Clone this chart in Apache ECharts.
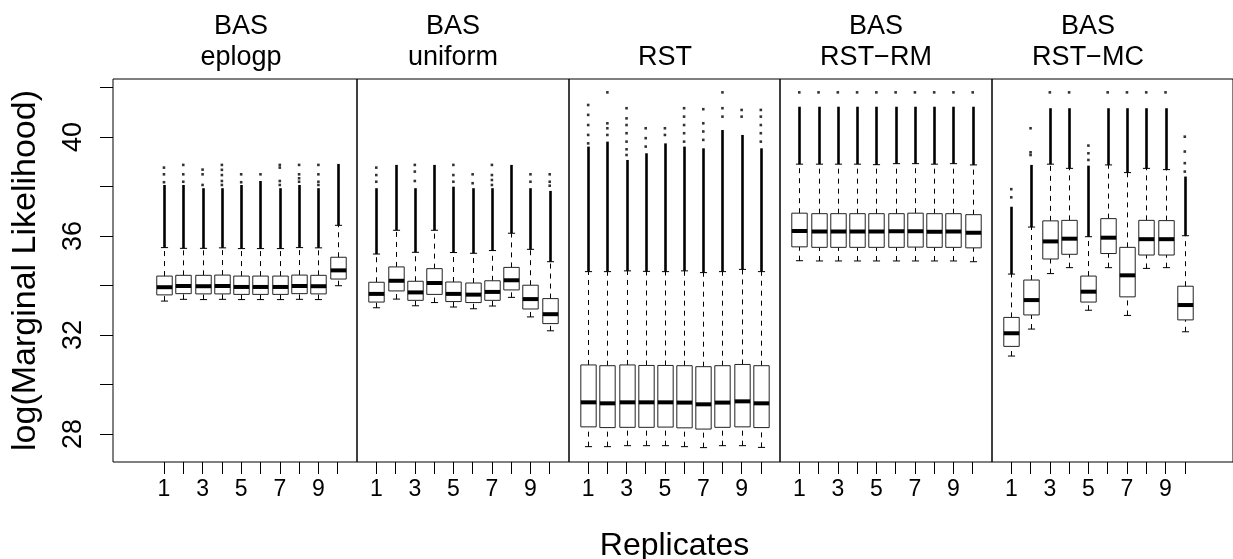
<!DOCTYPE html>
<html>
<head>
<meta charset="utf-8">
<script src="https://cdn.jsdelivr.net/npm/echarts@6/dist/echarts.min.js"></script>
<style>
  html, body { margin: 0; padding: 0; background: #fff; }
  #chart { width: 1233px; height: 559px; }
</style>
</head>
<body>
<div id="chart"></div>
<script>
// strip labels, one per panel
const panelNames = ['BAS\neplogp', 'BAS\nuniform', 'RST', 'BAS\nRST\u2212RM', 'BAS\nRST\u2212MC'];
const replicates = [1, 2, 3, 4, 5, 6, 7, 8, 9, 10];
const xTickLabels = [1, 3, 5, 7, 9];
const yTicks = [28, 30, 32, 34, 36, 38, 40, 42];
const yTickLabels = [28, 32, 36, 40];

// each box: [lower whisker, Q1, median, Q3, upper whisker, top of dense outliers]
const eplogpBoxes = [
    [33.37, 33.62, 33.93, 34.38, 35.53, 38.06],
    [33.44, 33.67, 33.98, 34.41, 35.50, 38.06],
    [33.43, 33.66, 33.97, 34.41, 35.50, 37.93],
    [33.44, 33.66, 33.98, 34.42, 35.52, 37.93],
    [33.43, 33.64, 33.94, 34.38, 35.49, 38.06],
    [33.43, 33.64, 33.94, 34.38, 35.49, 38.22],
    [33.43, 33.64, 33.94, 34.38, 35.49, 37.93],
    [33.44, 33.67, 33.98, 34.42, 35.53, 38.06],
    [33.43, 33.66, 33.97, 34.41, 35.52, 37.93],
    [33.99, 34.26, 34.61, 35.14, 36.43, 38.91]
];
const eplogpDots = [
    [38.17, 38.49, 38.76], [38.19, 38.49, 38.87], [38.06, 38.49, 38.68],
    [38.06, 38.22, 38.46, 38.67, 38.87], [38.17, 38.49], [38.49],
    [38.06, 38.22, 38.76, 38.87], [38.19, 38.33, 38.49, 38.87],
    [38.06, 38.19, 38.49, 38.87], []
];

const uniformBoxes = [
    [33.10, 33.33, 33.66, 34.13, 35.27, 37.93],
    [33.45, 33.78, 34.19, 34.75, 36.23, 38.87],
    [33.18, 33.40, 33.72, 34.17, 35.34, 37.93],
    [33.31, 33.64, 34.10, 34.68, 36.23, 38.87],
    [33.13, 33.35, 33.66, 34.14, 35.33, 37.99],
    [33.06, 33.31, 33.63, 34.10, 35.30, 37.93],
    [33.17, 33.40, 33.74, 34.19, 35.41, 37.93],
    [33.52, 33.82, 34.21, 34.73, 36.11, 38.87],
    [32.73, 33.05, 33.45, 34.01, 35.46, 37.93],
    [32.17, 32.46, 32.84, 33.47, 34.96, 37.82]
];
const uniformDots = [
    [38.19, 38.46, 38.76], [], [38.22, 38.60, 38.87], [], [38.19, 38.46, 38.87],
    [38.13, 38.49], [38.06, 38.26, 38.46, 38.87], [], [38.19, 38.49], [38.03, 38.19, 38.49]
];

const rstBoxes = [
    [27.49, 28.29, 29.28, 30.79, 34.56, 39.61],
    [27.49, 28.26, 29.24, 30.76, 34.56, 39.81],
    [27.53, 28.27, 29.28, 30.79, 34.59, 39.07],
    [27.53, 28.27, 29.28, 30.77, 34.57, 39.34],
    [27.53, 28.28, 29.28, 30.77, 34.56, 39.74],
    [27.49, 28.25, 29.27, 30.76, 34.59, 39.61],
    [27.45, 28.20, 29.20, 30.72, 34.52, 39.54],
    [27.53, 28.27, 29.27, 30.76, 34.56, 40.28],
    [27.53, 28.29, 29.32, 30.81, 34.65, 40.08],
    [27.46, 28.26, 29.24, 30.76, 34.56, 39.54]
];
const rstDots = [
    [39.74, 40.08, 40.48, 40.89, 41.29],
    [40.08, 40.35, 40.55, 41.80],
    [39.27, 39.50, 39.81, 40.15, 40.48, 40.75, 41.16],
    [39.61, 39.95, 40.35],
    [40.08, 40.35],
    [39.81, 40.15, 40.48, 40.82, 41.16],
    [39.88, 40.22, 40.55, 41.12],
    [40.82, 41.16, 41.80],
    [40.82, 41.09],
    [39.81, 40.15, 40.48, 40.82, 41.09]
];

const rstRmBoxes = [
    [35.00, 35.56, 36.20, 36.92, 38.90, 41.22],
    [34.99, 35.54, 36.18, 36.90, 38.90, 41.22],
    [34.99, 35.54, 36.18, 36.90, 38.90, 41.22],
    [34.99, 35.54, 36.18, 36.90, 38.90, 41.22],
    [34.99, 35.54, 36.18, 36.90, 38.88, 41.22],
    [34.99, 35.54, 36.19, 36.90, 38.92, 41.22],
    [34.99, 35.55, 36.19, 36.92, 38.92, 41.22],
    [34.99, 35.54, 36.17, 36.90, 38.90, 41.22],
    [34.99, 35.54, 36.18, 36.90, 38.92, 41.22],
    [34.96, 35.52, 36.13, 36.86, 38.87, 41.22]
];
const rstRmDots = [
    [41.80], [41.80], [41.80], [41.80], [41.80],
    [41.80], [41.80], [41.80], [41.80], [41.80]
];

const rstMcBoxes = [
    [31.15, 31.54, 32.07, 32.71, 34.46, 37.18],
    [32.24, 32.81, 33.41, 34.22, 36.36, 38.87],
    [34.48, 35.07, 35.78, 36.61, 38.90, 41.16],
    [34.72, 35.26, 35.89, 36.63, 38.73, 41.16],
    [33.00, 33.33, 33.75, 34.38, 35.97, 38.84],
    [34.72, 35.29, 35.93, 36.70, 38.87, 41.16],
    [32.79, 33.54, 34.41, 35.54, 38.56, 41.16],
    [34.69, 35.23, 35.87, 36.63, 38.73, 41.16],
    [34.72, 35.23, 35.87, 36.62, 38.68, 41.16],
    [32.13, 32.61, 33.21, 33.97, 36.01, 38.40]
];
const rstMcDots = [
    [37.56, 37.89], [39.27, 39.38, 40.35], [41.80], [41.80], [39.07, 39.34, 39.65],
    [41.80], [41.80], [41.80], [41.80], [38.60, 38.94, 39.41, 40.01]
];

const panelBoxes = [eplogpBoxes, uniformBoxes, rstBoxes, rstRmBoxes, rstMcBoxes];
const panelDots = [eplogpDots, uniformDots, rstDots, rstRmDots, rstMcDots];

// panel frames in pixels and x ranges
const panelLeft = [113, 357, 569, 780, 992];
const panelWidth = [244, 212, 211, 212, 241];
const panelXMin = [-1.64, 0, 0, 0, 0];
const panelXMax = [11, 11, 11, 11, 12.5];
const stripX = [241, 453, 665, 876, 1088];

const font = '"Liberation Sans", Arial, Helvetica, sans-serif';

function renderBox(params, api) {
    const x = api.value(0);
    const low = api.coord([x, api.value(1)]);
    const q1 = api.coord([x, api.value(2)]);
    const med = api.coord([x, api.value(3)]);
    const q3 = api.coord([x, api.value(4)]);
    const up = api.coord([x, api.value(5)]);
    const top = api.coord([x, api.value(6)]);
    const unit = api.size([1, 0])[0];
    const bw = unit * 0.8;
    const cw = unit * 0.37;
    const cx = Math.round(q1[0]) + 0.5;
    const dash = { stroke: '#000', lineWidth: 1, lineDash: [5, 5] };
    return {
        type: 'group',
        children: [
            { type: 'line', shape: { x1: cx, y1: low[1], x2: cx, y2: q1[1] }, style: dash },
            { type: 'line', shape: { x1: cx, y1: q3[1], x2: cx, y2: up[1] }, style: dash },
            { type: 'line', shape: { x1: cx, y1: up[1], x2: cx, y2: top[1] }, style: { stroke: '#000', lineWidth: 2.6 } },
            { type: 'line', shape: { x1: cx - cw / 2, y1: low[1], x2: cx + cw / 2, y2: low[1] }, style: { stroke: '#000', lineWidth: 1 } },
            { type: 'line', shape: { x1: cx - cw / 2, y1: up[1], x2: cx + cw / 2, y2: up[1] }, style: { stroke: '#000', lineWidth: 1 } },
            {
                type: 'rect',
                shape: { x: cx - bw / 2, y: q3[1], width: bw, height: q1[1] - q3[1] },
                style: { fill: '#fff', stroke: '#222', lineWidth: 1 }
            },
            { type: 'line', shape: { x1: cx - bw / 2, y1: med[1], x2: cx + bw / 2, y2: med[1] }, style: { stroke: '#000', lineWidth: 4 } }
        ]
    };
}

const chart = echarts.init(document.getElementById('chart'));

const grids = [];
const xAxes = [];
const yAxes = [];
const series = [];

panelBoxes.forEach((boxes, i) => {
    grids.push({
        left: panelLeft[i], top: 79, width: panelWidth[i], height: 383,
        outerBoundsMode: 'none',
        containLabel: false,
        show: true, borderColor: '#000', borderWidth: 1, backgroundColor: 'transparent'
    });
    xAxes.push({
        gridIndex: i,
        type: 'value',
        min: panelXMin[i],
        max: panelXMax[i],
        axisLine: { show: false, onZero: false },
        splitLine: { show: false },
        axisTick: { show: true, length: 12, customValues: replicates, lineStyle: { color: '#000', width: 1 } },
        axisLabel: { customValues: xTickLabels, fontSize: 23, color: '#000', fontFamily: font, margin: 16 },
        name: i === 2 ? 'Replicates' : '',
        nameLocation: 'middle',
        nameGap: 68,
        nameTextStyle: { fontSize: 32, color: '#000', fontFamily: font }
    });
    yAxes.push({
        gridIndex: i,
        type: 'value',
        min: 26.87,
        max: 42.34,
        show: i === 0,
        axisLine: { show: false, onZero: false },
        splitLine: { show: false },
        axisTick: { show: true, length: 13, customValues: yTicks, lineStyle: { color: '#000', width: 1 } },
        axisLabel: { customValues: yTickLabels, rotate: 90, fontSize: 27, color: '#000', fontFamily: font, margin: 26 },
        name: 'log(Marginal Likelihood)',
        nameLocation: 'middle',
        nameRotate: 90,
        nameGap: 70,
        nameTextStyle: { fontSize: 34, color: '#000', fontFamily: font }
    });
    series.push({
        type: 'custom',
        xAxisIndex: i,
        yAxisIndex: i,
        renderItem: renderBox,
        encode: { x: 0, y: [1, 2, 3, 4, 5, 6] },
        data: boxes.map((b, k) => [replicates[k]].concat(b)),
        silent: true
    });
    const dots = [];
    panelDots[i].forEach((list, k) => {
        list.forEach(v => dots.push([replicates[k], v]));
    });
    series.push({
        type: 'scatter',
        xAxisIndex: i,
        yAxisIndex: i,
        symbol: 'rect',
        symbolSize: [2.6, 2.6],
        itemStyle: { color: '#000' },
        data: dots,
        silent: true,
        z: 3
    });
});

const option = {
    animation: false,
    backgroundColor: '#fff',
    grid: grids,
    xAxis: xAxes,
    yAxis: yAxes,
    series: series,
    graphic: panelNames.map((name, i) => ({
        type: 'text',
        x: stripX[i],
        y: 73,
        style: {
            text: name,
            font: '27px ' + font,
            fill: '#000',
            textAlign: 'center',
            textVerticalAlign: 'bottom',
            lineHeight: 31
        }
    }))
};

chart.setOption(option);
</script>
</body>
</html>
